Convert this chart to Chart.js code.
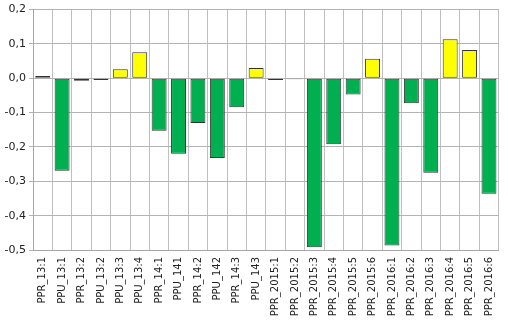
<!DOCTYPE html>
<html>
<head>
<meta charset="utf-8">
<script src="https://cdn.jsdelivr.net/npm/chart.js@4/dist/chart.umd.min.js"></script>
<style>
  html, body { margin: 0; padding: 0; background: #fff; }
  #wrap { width: 508px; height: 327px; position: relative; }
</style>
</head>
<body>
<div id="wrap"><canvas id="c" width="508" height="327"></canvas></div>
<script>
const categories = [
  'PPR_13:1', 'PPU_13:1', 'PPR_13:2', 'PPU_13:2', 'PPU_13:3', 'PPU_13:4',
  'PPR_14:1', 'PPU_141', 'PPR_14:2', 'PPU_142', 'PPR_14:3', 'PPU_143',
  'PPR_2015:1', 'PPR_2015:2', 'PPR_2015:3', 'PPR_2015:4', 'PPR_2015:5', 'PPR_2015:6',
  'PPR_2016:1', 'PPR_2016:2', 'PPR_2016:3', 'PPR_2016:4', 'PPR_2016:5', 'PPR_2016:6'
];
const values = [
  0.007, -0.269, -0.007, -0.005, 0.026, 0.076,
  -0.153, -0.220, -0.130, -0.232, -0.084, 0.030,
  -0.005, -0.003, -0.492, -0.192, -0.047, 0.057,
  -0.487, -0.073, -0.275, 0.114, 0.082, -0.336
];
const yTicks = [0.2, 0.1, 0.0, -0.1, -0.2, -0.3, -0.4, -0.5];

const positiveColor = '#FFFF00';
const negativeColor = '#00B050';

new Chart(document.getElementById('c'), {
  type: 'bar',
  data: {
    labels: categories,
    datasets: [{
      data: values,
      backgroundColor: values.map(v => v >= 0 ? positiveColor : negativeColor),
      borderColor: '#333333',
      borderWidth: 1,
      borderSkipped: false,
      categoryPercentage: 1.0,
      barPercentage: 0.77
    }]
  },
  options: {
    responsive: false,
    animation: false,
    devicePixelRatio: 1,
    layout: { padding: { top: 8, right: 1, left: 0, bottom: 0 } },
    plugins: { legend: { display: false }, tooltip: { enabled: false } },
    scales: {
      x: {
        grid: { color: '#bfbfbf', lineWidth: 1, drawTicks: false, offset: true },
        border: { color: '#a6a6a6' },
        ticks: {
          minRotation: 90, maxRotation: 90, autoSkip: false,
          color: '#222', padding: 7,
          font: { family: 'DejaVu Sans', size: 10 }
        },
        afterFit: s => { s.height = 77; }
      },
      y: {
        min: Math.min(...yTicks),
        max: Math.max(...yTicks),
        afterBuildTicks: s => { s.ticks = yTicks.map(v => ({ value: v })); },
        grid: { color: '#b3b3b3', lineWidth: 1, drawTicks: true, tickLength: 4 },
        border: { color: '#a6a6a6' },
        ticks: {
          color: '#222', padding: 3,
          font: { family: 'DejaVu Sans', size: 11 },
          callback: v => Number(v).toFixed(1).replace('.', ',')
        },
        afterFit: s => { s.width = 33; }
      }
    }
  }
});
</script>
</body>
</html>
